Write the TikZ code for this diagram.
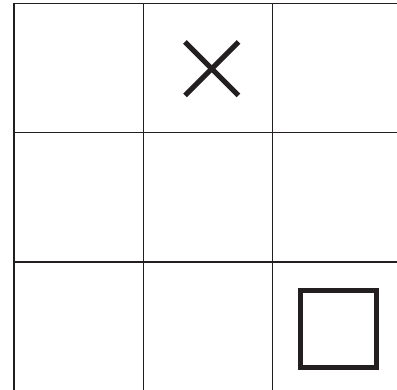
\documentclass[tikz,border=0pt]{standalone}
\begin{document}
\begin{tikzpicture}[x=1pt,y=-1pt]
\definecolor{ink}{HTML}{231F20}
\tikzset{gridline/.style={draw=ink,line width=1.3pt},
  markline/.style={draw=ink,line width=5pt}}
\useasboundingbox (0,0) rectangle (397,390);
\path[fill=white] (0,0) rectangle (397,390);
% vertical lines
\foreach \x in {14,143.5,272.5} \draw[gridline] (\x,3.5) -- (\x,390);
% horizontal lines
\foreach \y in {3.5,132.5,262} \draw[gridline] (14,\y) -- (397,\y);
% X mark
\draw[markline] (185,42) -- (238.5,95.5);
\draw[markline] (238.5,42) -- (185,95.5);
% square mark
\draw[markline] (300.8,290.8) rectangle (376.8,367.5);
\end{tikzpicture}
\end{document}
